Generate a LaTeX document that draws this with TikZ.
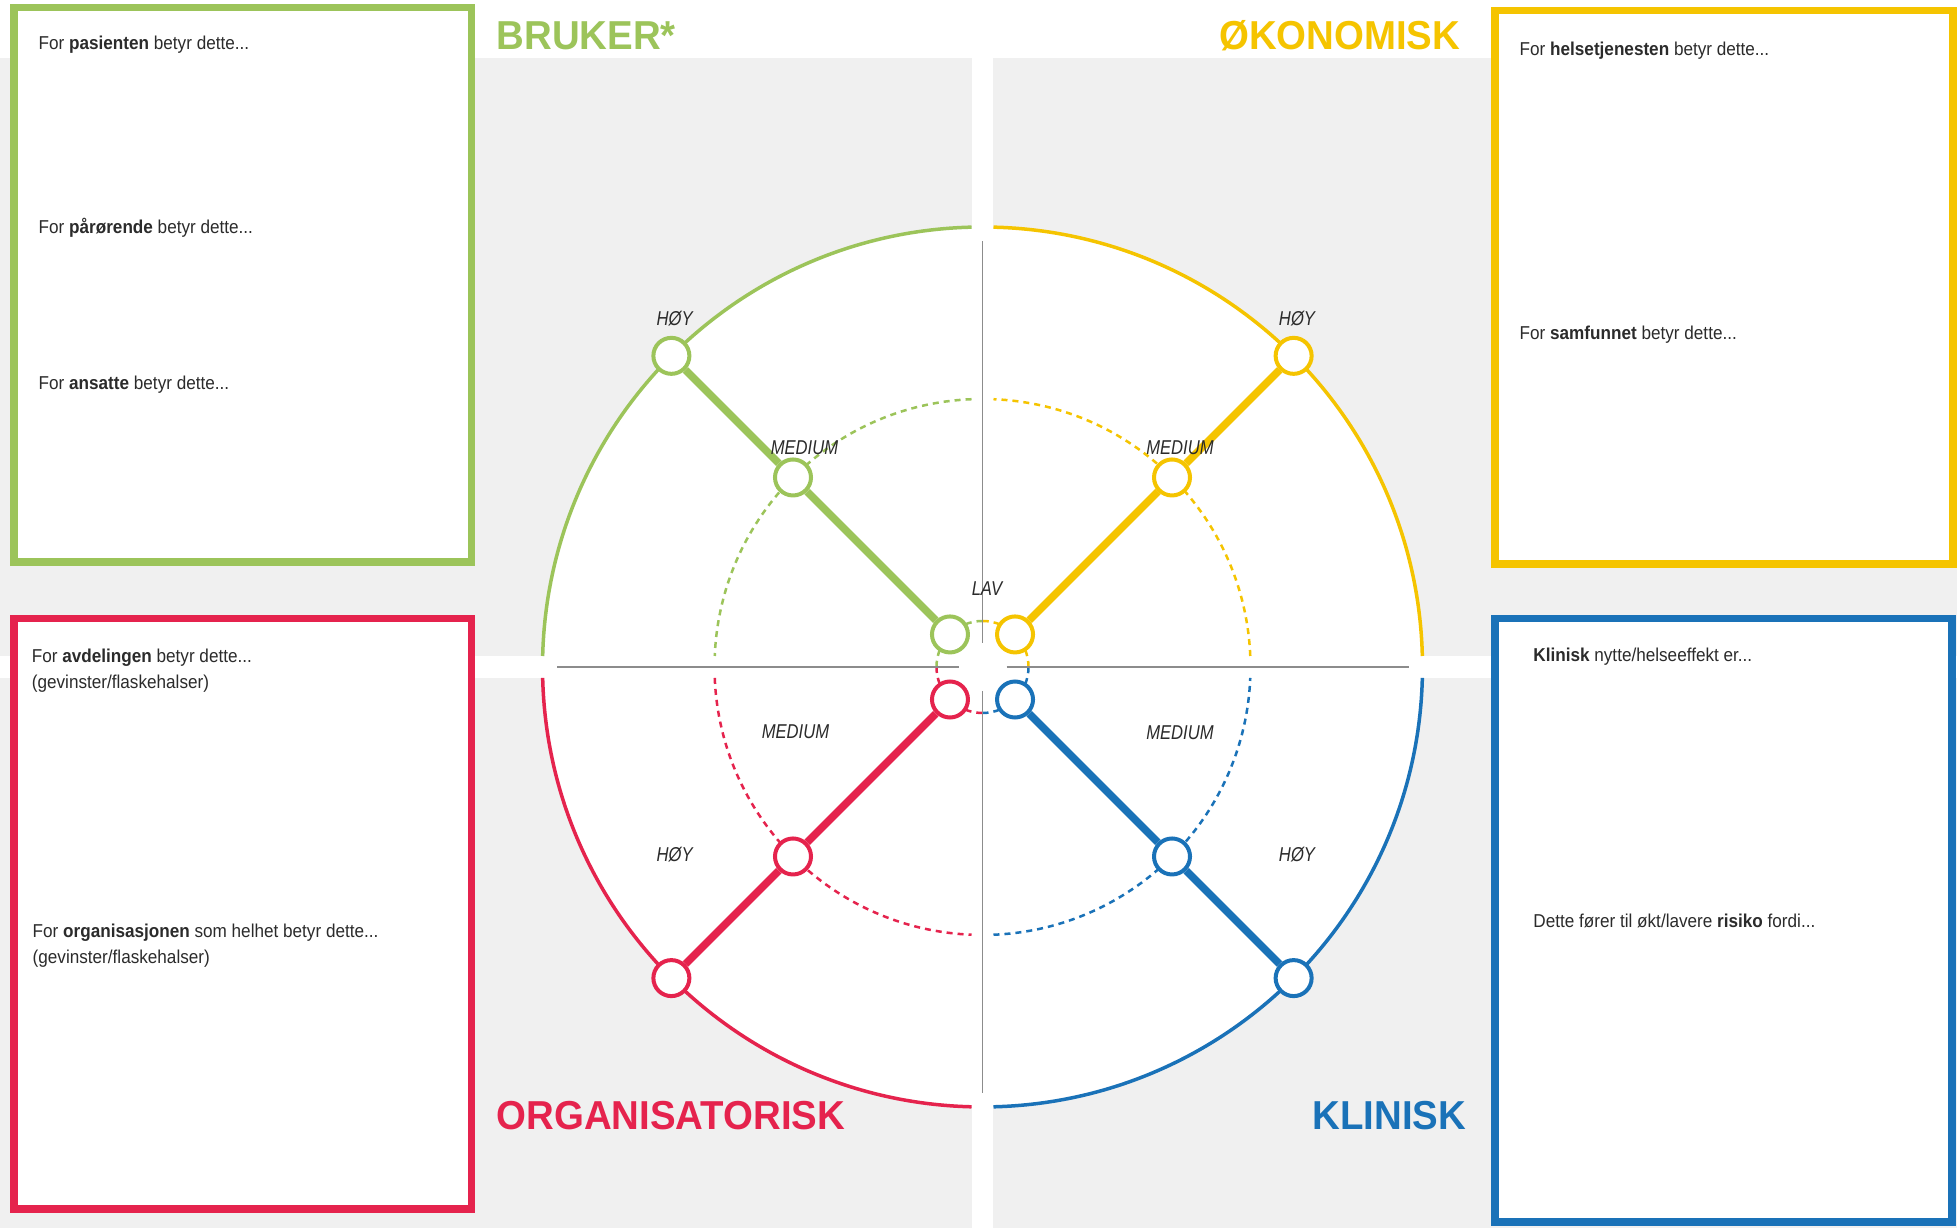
\documentclass[tikz,border=0pt]{standalone}
\usepackage{fontspec}
\setmainfont[FakeStretch=0.92]{Liberation Sans}
\newfontfamily\headfont[FakeStretch=0.95]{Liberation Sans}
\newfontfamily\lblfont[FakeStretch=0.83]{Liberation Sans}
\usetikzlibrary{positioning}

\definecolor{brukergreen}{HTML}{9CC45A}
\definecolor{okoyellow}{HTML}{F5C400}
\definecolor{orgred}{HTML}{E5234D}
\definecolor{klinblue}{HTML}{1A72B8}
\definecolor{bggray}{HTML}{F0F0F0}
\definecolor{axisgray}{HTML}{8C8C8C}
\definecolor{txtgray}{HTML}{2B2B2B}

\tikzset{
  answerbox/.style={draw=#1, line width=0.075cm, fill=white},
  heading/.style={text=#1, font=\headfont\fontsize{11.5}{12}\selectfont\bfseries, inner sep=0pt},
  boxtext/.style={text=txtgray, font=\fontsize{5.3}{7.4}\selectfont, inner sep=0pt, align=left},
  scorenode/.style={circle, draw=#1, line width=0.04cm, fill=white, minimum size=0.36cm, inner sep=0pt},
  lbl/.style={text=txtgray, font=\lblfont\itshape\fontsize{5.7}{6}\selectfont, inner sep=0pt, anchor=base},
  spoke/.style={draw=#1, line width=0.075cm},
  ring/.style={draw=#1, line width=0.035cm},
  midring/.style={draw=#1, line width=0.025cm, dash pattern=on 0.06cm off 0.05cm},
}

\begin{document}
\begin{tikzpicture}

\useasboundingbox (0,0) rectangle (19.57,12.28);
\clip (0,0) rectangle (19.57,12.28);

% background with the white cross
\fill[bggray] (0,0) rectangle (19.57,12.28);
\fill[white] (0,11.70) rectangle (19.57,12.28);
\fill[white] (9.717,0) rectangle (9.933,12.28);
\fill[white] (0,5.50) rectangle (19.57,5.72);

% the wheel
\coordinate (c) at (9.825,5.61);
\fill[white] (c) circle (4.40);

%% quarter rings, one colour per quadrant
\foreach \a/\col in {0/okoyellow,90/brukergreen,180/orgred,270/klinblue} {
  \draw[ring=\col] ([shift={(\a+1.43:4.40)}]c) arc[start angle=\a+1.43, end angle=\a+88.57, radius=4.40];
  \draw[midring=\col] ([shift={(\a+2.35:2.68)}]c) arc[start angle=\a+2.35, end angle=\a+87.65, radius=2.68];
  \draw[midring=\col] ([shift={(\a:0.46)}]c) arc[start angle=\a, end angle=\a+90, radius=0.46];
}

%% thin cross
\foreach \a in {0,90,180,270}
  \draw[axisgray, line width=0.013cm] ([shift={(\a:0.24)}]c) -- ([shift={(\a:4.26)}]c);

%% lav / medium / hoy points and spokes
\foreach \n/\a/\col in {bru/135/brukergreen,oko/45/okoyellow,org/225/orgred,kli/315/klinblue} {
  \path (c) ++(\a:0.46) node[scorenode=\col] (\n-lav) {};
  \path (c) ++(\a:2.68) node[scorenode=\col] (\n-med) {};
  \path (c) ++(\a:4.40) node[scorenode=\col] (\n-hoy) {};
  \draw[spoke=\col] (\n-lav) -- (\n-med) -- (\n-hoy);
}

%% level labels
\node[lbl] (lav) at (9.87,6.32) {LAV};
\node[lbl] (bru-med-txt) at (8.045,7.73) {MEDIUM};
\node[lbl] (oko-med-txt) at (11.80,7.73) {MEDIUM};
\node[lbl] (org-med-txt) at (7.955,4.897) {MEDIUM};
\node[lbl] (kli-med-txt) at (11.80,4.887) {MEDIUM};
\node[lbl] (bru-hoy-txt) at (6.747,9.02) {HØY};
\node[lbl] (oko-hoy-txt) at (12.97,9.02) {HØY};
\node[lbl] (org-hoy-txt) at (6.747,3.66) {HØY};
\node[lbl] (kli-hoy-txt) at (12.97,3.66) {HØY};

% headings
\node[heading=brukergreen, anchor=base west] (bruker) at (4.96,11.783) {BRUKER*};
\node[heading=okoyellow, anchor=base east] (okonomisk) at (14.61,11.783) {ØKONOMISK};
\node[heading=orgred, anchor=base west] (organisatorisk) at (4.96,0.985) {ORGANISATORISK};
\node[heading=klinblue, anchor=base east] (klinisk) at (14.67,0.985) {KLINISK};

% the four boxes
\draw[answerbox=brukergreen] (0.138,6.66) rectangle (4.716,12.207);
\draw[answerbox=okoyellow] (14.95,6.64) rectangle (19.53,12.173);
\draw[answerbox=orgred] (0.138,0.19) rectangle (4.716,6.094);
\draw[answerbox=klinblue] (14.95,0.06) rectangle (19.52,6.094);

%% bruker
\node[boxtext, anchor=base west] (pasient) at (0.38,11.783) {For \textbf{pasienten} betyr dette...};
\node[boxtext, anchor=base west] (parorende) at (0.38,9.94) {For \textbf{pårørende} betyr dette...};
\node[boxtext, anchor=base west] (ansatte) at (0.38,8.384) {For \textbf{ansatte} betyr dette...};

%% okonomisk
\node[boxtext, anchor=base west] (helse) at (15.19,11.725) {For \textbf{helsetjenesten} betyr dette...};
\node[boxtext, anchor=base west] (samfunn) at (15.19,8.88) {For \textbf{samfunnet} betyr dette...};

%% organisatorisk
\node[boxtext, anchor=north west] (avdeling) at (0.312,5.80) {For \textbf{avdelingen} betyr dette...\\(gevinster/flaskehalser)};
\node[boxtext, anchor=north west] (organisasjon) at (0.32,3.05) {For \textbf{organisasjonen} som helhet betyr dette...\\(gevinster/flaskehalser)};

%% klinisk
\node[boxtext, anchor=base west] (nytte) at (15.327,5.66) {\textbf{Klinisk} nytte/helseeffekt er...};
\node[boxtext, anchor=base west] (risiko) at (15.327,3.004) {Dette fører til økt/lavere \textbf{risiko} fordi...};

\end{tikzpicture}
\end{document}
